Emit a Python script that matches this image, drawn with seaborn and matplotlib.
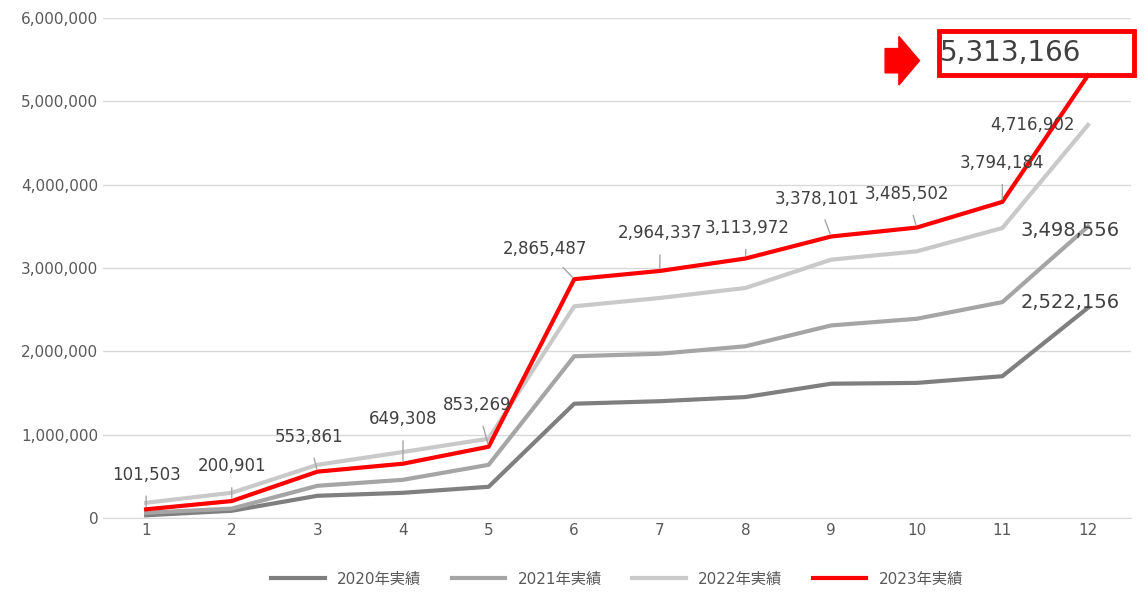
import matplotlib

matplotlib.use("Agg")

import matplotlib.pyplot as plt
import pandas as pd
import seaborn as sns
from matplotlib.patches import FancyArrow, Rectangle

plt.rcParams["font.family"] = ["DejaVu Sans", "Noto Sans CJK JP"]

months = list(range(1, 13))
series_names = ["2020年実績", "2021年実績", "2022年実績", "2023年実績"]
v2020 = [30000, 84000, 264000, 300000, 372000, 1370000, 1400000, 1450000, 1610000, 1620000, 1700000, 2522156]
v2021 = [60000, 110000, 384000, 456000, 636000, 1940000, 1970000, 2060000, 2310000, 2390000, 2590000, 3498556]
v2022 = [180000, 300000, 636000, 790000, 950000, 2540000, 2640000, 2760000, 3100000, 3200000, 3480000, 4716902]
v2023 = [101503, 200901, 553861, 649308, 853269, 2865487, 2964337, 3113972, 3378101, 3485502, 3794184, 5313166]
colors = ["#7f7f7f", "#a5a5a5", "#c9c9c9", "#ff0000"]

df = pd.DataFrame({"month": months * 4,
                   "value": v2020 + v2021 + v2022 + v2023,
                   "series": sum([[s] * 12 for s in series_names], [])})

fig = plt.figure(figsize=(11.48, 6.07), dpi=100)
ax = fig.add_axes([0.09, 0.147, 0.895, 0.823])
sns.lineplot(data=df, x="month", y="value", hue="series", palette=colors,
             linewidth=3, ax=ax, legend=True)

ax.set_xlim(0.5, 12.5)
ax.set_ylim(0, 6000000)
ax.set_xticks(months)
ax.set_yticks(range(0, 6000001, 1000000))
ax.yaxis.set_major_formatter(matplotlib.ticker.FuncFormatter(lambda v, p: f"{int(v):,}"))
ax.tick_params(length=0, labelsize=11, colors="#595959")
ax.grid(axis="y", color="#d9d9d9", linewidth=1)
ax.grid(axis="x", visible=False)
for s in ["top", "right", "left"]:
    ax.spines[s].set_visible(False)
ax.spines["bottom"].set_color("#d9d9d9")
ax.set_xlabel("")
ax.set_ylabel("")

# data labels for 2023 (months 1-11)
offsets = [(0, 25), (0, 25), (-6, 25), (0, 32), (-8, 30), (-21, 22), (0, 27), (1, 22), (-10, 27), (-7, 24), (0, 28)]
for m, v, (dx, dy) in zip(months[:11], v2023[:11], offsets):
    ax.annotate(f"{v:,}", (m, v), xytext=(dx, dy), textcoords="offset points",
                ha="center", va="center", fontsize=12, color="#404040",
                arrowprops=dict(arrowstyle="-", color="#a5a5a5", lw=1, shrinkA=7, shrinkB=2))
ax.annotate(f"{v2022[11]:,}", (12, v2022[11]), xytext=(-40, 0), textcoords="offset points",
            ha="center", va="center", fontsize=12, color="#404040")
ax.annotate(f"{v2021[11]:,}", (12, v2021[11]), xytext=(-13, -3), textcoords="offset points",
            ha="center", va="center", fontsize=14, color="#404040")
ax.annotate(f"{v2020[11]:,}", (12, v2020[11]), xytext=(-13, 4), textcoords="offset points",
            ha="center", va="center", fontsize=14, color="#404040")

# highlight box
fig.patches.append(Rectangle((0.818, 0.876), 0.17, 0.073, transform=fig.transFigure,
                             fill=False, edgecolor="#ff0000", linewidth=3.5))
fig.text(0.88, 0.912, f"{v2023[11]:,}", ha="center", va="center", fontsize=20, color="#404040")
fig.patches.append(FancyArrow(0.771, 0.9, 0.012, 0, width=0.04, head_width=0.08,
                              head_length=0.018, transform=fig.transFigure,
                              color="#ff0000", length_includes_head=False))

h, l = ax.get_legend_handles_labels()
ax.legend(h, l, loc="upper center", bbox_to_anchor=(0.5, -0.08), ncol=4,
          frameon=False, fontsize=11, handlelength=3.5, labelcolor="#595959")

fig.savefig("out.png", dpi=100)
